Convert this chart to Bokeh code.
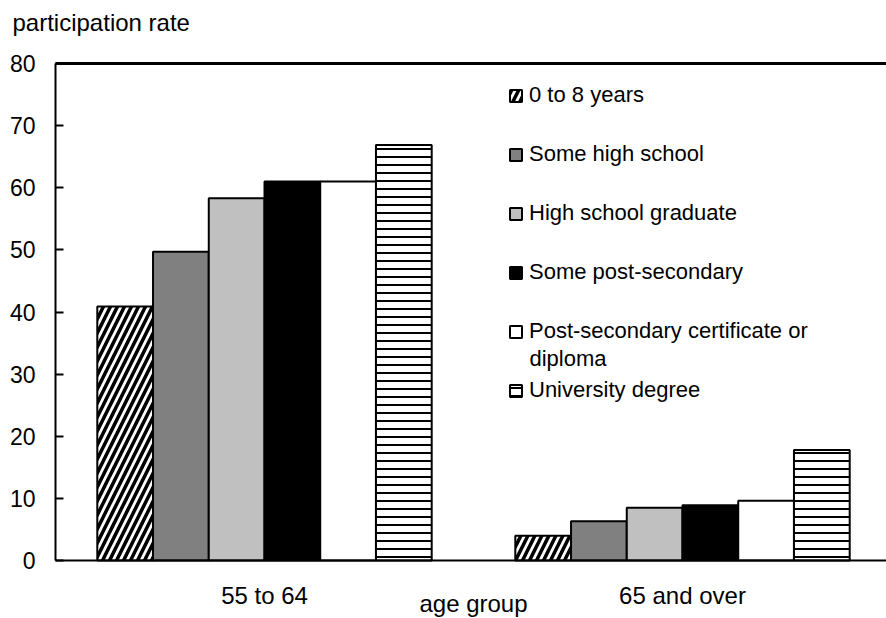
from bokeh.plotting import figure
from bokeh.models import (ColumnDataSource, Range1d, FixedTicker, Legend, LegendItem,
                          Label, LinearAxis)
from bokeh.transform import dodge
from bokeh.embed import file_html
from bokeh.resources import INLINE

# ---- data ----
age_groups = ["55 to 64", "65 and over"]
education = ["0 to 8 years", "Some high school", "High school graduate",
             "Some post-secondary", "Post-secondary certificate or", "University degree"]
rates_55_64 = [40.9, 49.7, 58.3, 61.0, 61.0, 66.9]
rates_65_over = [4.0, 6.3, 8.5, 8.9, 9.6, 17.8]
y_ticks = [0, 10, 20, 30, 40, 50, 60, 70, 80]

fills = ["white", "#808080", "#c0c0c0", "black", "white", "white"]
hatches = ["/", " ", " ", " ", " ", "-"]
hatch_scales = [14, 12, 12, 12, 12, 8]
hatch_weights = [3.5, 1, 1, 1, 1, 2]

FONT = "Liberation Sans"

centers = [i + 0.5 for i in range(len(age_groups))]
n = len(education)
bw = 0.8 / n

# layout (pixels): frame fills the whole canvas; data origin at (55, 560), 80 at y=63
W, H = 886, 618
X0, Y0, YTOP = 55, 560, 63
px_per_cat = 418
px_per_unit = (Y0 - YTOP) / 80
x_end = (W - X0) / px_per_cat

p = figure(width=W, height=H, output_backend="svg", toolbar_location=None,
           x_range=Range1d(-X0 / px_per_cat, x_end),
           y_range=Range1d(-(H - Y0) / px_per_unit, 80 + YTOP / px_per_unit),
           min_border_left=0, min_border_right=0, min_border_top=0, min_border_bottom=0)
p.outline_line_color = None
p.xgrid.visible = False
p.ygrid.visible = False

items = []
for k, name in enumerate(education):
    src = ColumnDataSource(dict(x=centers, top=[rates_55_64[k], rates_65_over[k]]))
    off = (k - (n - 1) / 2) * bw
    r = p.vbar(x=dodge("x", off), top="top", bottom=0, width=bw, source=src,
               fill_color=fills[k], line_color="black", line_width=2,
               hatch_pattern=hatches[k], hatch_color="black",
               hatch_scale=hatch_scales[k], hatch_weight=hatch_weights[k])
    items.append(LegendItem(label=name, renderers=[r]))

legend = Legend(items=items, location=(453 + X0, 215), glyph_width=15, glyph_height=15,
                label_text_font=FONT, label_text_font_size="22px", label_standoff=6,
                label_text_color="black",
                spacing=33, padding=0, margin=0, border_line_color=None,
                background_fill_alpha=0)
p.add_layout(legend)

p.add_layout(Label(x=529, y=H - 358, x_units="screen", y_units="screen", text="diploma",
                   text_font=FONT, text_font_size="22px", text_baseline="middle",
                   text_color="black"))
p.add_layout(Label(x=12, y=H - 22, x_units="screen", y_units="screen",
                   text="participation rate", text_font=FONT, text_font_size="24px",
                   text_baseline="middle", text_color="black"))
p.add_layout(Label(x=1.0, y=H - 603, y_units="screen", text="age group",
                   text_font=FONT, text_font_size="24px", text_align="center",
                   text_baseline="middle", text_color="black"))

# top border line at 80, drawn as a bare axis
top_line = LinearAxis(fixed_location=80, bounds=(0, x_end), axis_line_width=3,
                      axis_line_color="black", major_tick_line_color=None,
                      minor_tick_line_color=None, major_label_text_font_size="0px",
                      ticker=FixedTicker(ticks=[]))
p.add_layout(top_line, "above")

# axes
p.yaxis.fixed_location = 0
p.yaxis.bounds = (0, 80)
p.yaxis.ticker = FixedTicker(ticks=y_ticks)
p.yaxis.major_tick_in = 8
p.yaxis.major_tick_out = 0
p.yaxis.minor_tick_line_color = None
p.yaxis.axis_line_width = 2
p.yaxis.major_tick_line_width = 2
p.yaxis.major_label_standoff = 20
p.yaxis.major_label_text_font = FONT
p.yaxis.major_label_text_font_size = "23px"
p.yaxis.major_label_text_color = "black"

p.below[0].fixed_location = 0
p.below[0].bounds = (0, x_end)
p.below[0].ticker = FixedTicker(ticks=centers)
p.below[0].major_label_overrides = {c: g for c, g in zip(centers, age_groups)}
p.below[0].major_tick_in = 0
p.below[0].major_tick_out = 0
p.below[0].minor_tick_line_color = None
p.below[0].axis_line_width = 2
p.below[0].major_label_standoff = 21
p.below[0].major_label_text_font = FONT
p.below[0].major_label_text_font_size = "24px"
p.below[0].major_label_text_color = "black"

open("out.html", "w").write(file_html(p, INLINE))
